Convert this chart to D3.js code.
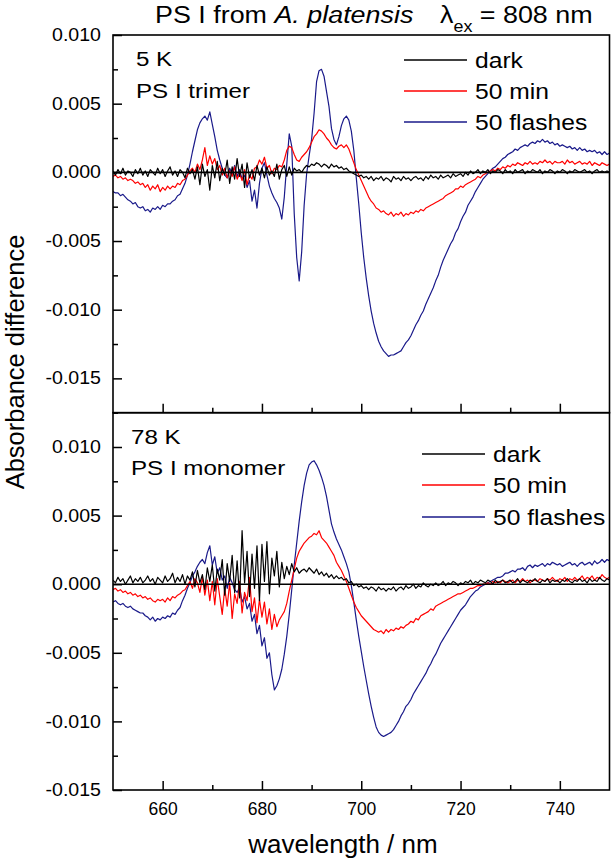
<!DOCTYPE html>
<html><head><meta charset="utf-8">
<script src="https://cdn.jsdelivr.net/npm/d3@7"></script>
<style>body{margin:0;background:#fff} svg{display:block;font-family:"Liberation Sans",Arial,sans-serif}</style>
</head><body><svg id="c" width="612" height="860"></svg>
<script>
// wavelength grid: 650 … 750 nm, 0.5 nm step; values in units of 10^-3 absorbance
const wavelengthStart = 650, wavelengthStep = 0.5;

const trimerDark = [
0.1,-0.2,0.2,-0.1,0.3,-0.2,0.1,0.0,-0.3,0.2,
-0.1,0.3,-0.2,0.1,-0.3,0.2,0.0,-0.2,0.3,-0.1,
0.2,-0.3,0.1,0.4,-0.2,0.1,-0.3,0.2,0.0,-0.4,
0.3,-0.1,0.2,-0.5,0.4,-0.9,0.6,-0.3,0.2,-1.3,
0.5,-0.4,0.8,-0.6,0.3,-0.2,0.9,-0.8,0.4,-0.5,
1.0,-0.3,0.6,-1.1,0.7,-0.4,0.2,-0.6,0.5,-0.2,
0.3,-0.4,0.4,-0.2,0.1,-0.3,0.6,-0.5,0.2,0.5,
-0.3,0.4,-0.2,0.3,0.1,0.2,0.0,0.3,0.5,0.4,
0.6,0.5,0.7,0.6,0.4,0.6,0.5,0.3,0.6,0.4,
0.5,0.3,0.4,0.2,0.3,0.1,0.0,-0.1,-0.2,-0.3,
-0.2,-0.4,-0.3,-0.5,-0.3,-0.6,-0.4,-0.5,-0.3,-0.6,
-0.4,-0.5,-0.7,-0.3,-0.5,-0.4,-0.6,-0.3,-0.5,-0.4,
-0.6,-0.4,-0.3,-0.5,-0.4,-0.6,-0.3,-0.5,-0.2,-0.4,
-0.3,-0.5,-0.2,-0.4,-0.3,-0.2,-0.4,-0.1,-0.3,-0.2,
-0.1,-0.3,0.0,-0.2,0.1,-0.1,0.0,0.2,-0.1,0.1,
0.0,0.2,-0.1,0.1,0.0,0.2,0.1,-0.1,0.2,0.0,
0.1,-0.1,0.2,0.0,0.1,0.2,-0.1,0.1,0.0,0.2,
0.1,0.0,0.2,-0.1,0.1,0.0,0.2,0.1,-0.1,0.1,
0.0,0.2,0.1,-0.1,0.1,0.0,0.2,0.1,0.0,0.1,
0.2,0.0,0.1,-0.1,0.1,0.2,0.0,0.1,0.0,0.1,
0.0];

const trimer50min = [
-0.3,-0.2,-0.4,-0.3,-0.5,-0.4,-0.6,-0.5,-0.6,-0.8,
-0.7,-0.9,-0.8,-1.1,-0.9,-1.3,-1.0,-1.2,-0.9,-1.4,
-1.1,-1.3,-1.0,-1.2,-1.0,-1.1,-0.8,-0.9,-0.6,-0.5,
-0.2,0.1,0.3,0.0,0.6,0.2,0.9,1.8,0.5,1.2,
0.6,1.0,0.2,0.5,-0.2,0.3,-0.4,0.1,-0.3,0.4,
-0.5,-0.1,-0.6,0.2,-0.9,-0.2,-0.5,0.3,0.4,0.9,
0.6,1.1,0.3,0.5,-0.1,0.3,0.2,0.5,0.4,0.9,
1.6,1.9,1.8,1.3,0.9,0.8,1.1,1.3,1.5,1.8,
2.2,2.6,2.8,3.1,3.0,2.8,2.5,2.3,2.0,1.8,
1.7,1.9,2.0,1.8,2.0,1.7,1.2,0.7,0.2,-0.2,
-0.6,-1.0,-1.4,-1.8,-2.1,-2.3,-2.6,-2.7,-2.9,-2.8,
-3.0,-3.1,-2.9,-3.2,-3.0,-3.1,-2.9,-3.2,-3.0,-3.1,
-2.9,-3.0,-2.8,-2.9,-2.7,-2.8,-2.6,-2.5,-2.4,-2.3,
-2.2,-2.1,-2.0,-1.9,-1.7,-1.6,-1.5,-1.4,-1.2,-1.2,
-1.0,-1.1,-0.9,-0.8,-0.7,-0.6,-0.5,-0.3,-0.4,-0.2,
-0.1,0.0,0.1,0.2,0.1,0.3,0.2,0.4,0.3,0.5,
0.4,0.6,0.5,0.7,0.6,0.5,0.7,0.6,0.8,0.6,
0.7,0.6,0.8,0.7,0.9,0.7,0.8,0.6,0.8,0.7,
0.7,0.8,0.6,0.9,0.7,0.8,0.6,0.7,0.8,0.6,
0.7,0.6,0.8,0.5,0.7,0.6,0.5,0.7,0.6,0.5,
0.6];

const trimer50flashes = [
-1.4,-1.5,-1.5,-1.7,-1.6,-1.8,-2.0,-2.1,-2.3,-2.2,
-2.5,-2.6,-2.5,-2.8,-2.7,-2.9,-2.6,-2.7,-2.5,-2.7,
-2.4,-2.5,-2.3,-2.3,-2.1,-2.0,-1.7,-1.6,-1.2,-0.8,
-0.2,0.6,1.5,2.3,3.1,3.6,3.9,4.1,3.8,4.4,
3.5,2.6,1.6,0.9,0.3,-0.2,-0.4,0.3,-0.1,0.5,
-0.3,0.2,-0.5,-0.2,-1.1,-0.6,-2.1,-1.3,-2.6,-0.8,
0.3,0.7,-0.2,-1.0,-1.5,-1.9,-2.2,-2.6,-3.4,-1.8,
0.6,2.8,1.9,-3.0,-6.2,-7.9,-5.8,-2.4,-0.1,1.2,
2.4,4.3,6.6,7.4,7.5,7.0,5.9,4.8,3.2,2.4,
2.0,2.6,3.4,3.9,4.1,3.8,3.0,1.6,-0.4,-2.3,
-4.4,-6.2,-7.7,-9.0,-10.1,-11.0,-11.7,-12.3,-12.7,-13.0,
-13.2,-13.4,-13.3,-13.3,-13.2,-13.1,-13.0,-12.7,-12.4,-12.2,
-11.9,-11.5,-11.1,-10.8,-10.4,-10.1,-9.6,-9.2,-8.8,-8.4,
-7.9,-7.5,-6.9,-6.4,-6.0,-5.6,-5.2,-4.9,-4.4,-4.1,
-3.6,-3.2,-2.9,-2.4,-2.1,-1.8,-1.4,-1.1,-0.8,-0.5,
-0.3,-0.1,0.1,0.3,0.4,0.6,0.8,1.0,1.1,1.3,
1.4,1.5,1.7,1.6,1.8,1.9,2.0,1.9,2.1,2.2,
2.1,2.3,2.2,2.4,2.2,2.3,2.1,2.2,2.0,2.1,
1.9,2.0,1.9,1.8,1.9,1.7,1.8,1.6,1.8,1.6,
1.7,1.5,1.6,1.5,1.6,1.4,1.5,1.3,1.5,1.3,
1.4];

const monomerDark = [
0.3,0.1,0.5,0.2,0.4,0.0,0.3,0.6,0.1,0.4,
0.2,0.5,0.1,0.3,0.6,0.2,0.4,0.0,0.5,0.3,
0.1,0.6,0.2,0.4,0.8,0.1,0.5,0.2,0.7,0.0,
0.6,0.3,0.9,-0.2,1.0,0.1,0.7,-0.4,1.2,0.2,
1.4,-0.5,1.1,0.3,1.8,-0.8,1.5,0.2,2.1,-0.6,
1.7,-1.0,3.9,0.1,2.4,-0.9,2.2,-0.3,2.8,-1.2,
2.9,0.2,3.1,-0.7,1.9,0.6,2.4,-0.2,1.6,0.4,
1.3,0.7,1.5,0.9,1.2,0.8,1.0,1.1,0.9,1.2,
1.0,0.8,1.1,0.7,0.9,0.6,0.8,0.5,0.7,0.4,
0.6,0.4,0.5,0.3,0.4,0.1,0.2,-0.1,0.0,-0.2,
-0.1,-0.3,-0.2,-0.4,-0.2,-0.3,-0.5,-0.2,-0.4,-0.3,
-0.5,-0.3,-0.4,-0.2,-0.5,-0.3,-0.2,-0.4,-0.1,-0.3,
-0.2,0.0,-0.3,-0.1,-0.2,0.1,-0.1,-0.2,0.0,-0.1,
0.1,-0.1,0.0,0.2,-0.1,0.1,0.0,0.2,0.1,-0.1,
0.1,0.0,0.2,0.1,0.3,0.0,0.2,0.1,0.3,0.2,
0.1,0.3,0.2,0.0,0.3,0.1,0.2,0.3,0.1,0.2,
0.3,0.1,0.2,0.4,0.1,0.3,0.2,0.1,0.3,0.2,
0.4,0.2,0.1,0.3,0.2,0.4,0.1,0.3,0.2,0.3,
0.1,0.3,0.2,0.4,0.2,0.1,0.3,0.2,0.4,0.2,
0.3,0.1,0.4,0.2,0.3,0.2,0.5,0.3,0.2,0.4,
0.3];

const monomer50min = [
-0.4,-0.3,-0.5,-0.4,-0.6,-0.5,-0.7,-0.6,-0.8,-0.7,
-0.9,-0.8,-1.0,-0.9,-1.1,-1.0,-1.2,-1.3,-1.1,-1.2,
-1.1,-1.3,-1.0,-1.2,-0.9,-1.0,-0.8,-0.7,-0.5,-0.4,
-0.1,0.2,-0.3,0.4,0.1,-0.6,0.5,-0.8,0.3,-1.2,
0.2,-1.5,0.4,-0.9,-2.2,-0.3,-1.6,0.1,-2.5,-0.7,
-1.4,0.2,-2.1,-0.6,-1.2,0.5,-2.0,-1.0,-2.8,-1.1,
-2.4,-1.3,-2.9,-1.8,-3.3,-2.2,-3.1,-2.6,-2.3,-2.0,
-1.4,-0.5,0.3,1.1,1.9,2.4,2.7,3.0,3.2,3.4,
3.5,3.7,3.6,3.9,3.4,3.2,3.0,2.7,2.4,2.1,
1.6,1.3,1.0,0.6,0.2,-0.3,-0.8,-1.3,-1.7,-2.0,
-2.3,-2.5,-2.7,-2.9,-3.1,-3.3,-3.4,-3.5,-3.4,-3.6,
-3.3,-3.5,-3.3,-3.4,-3.2,-3.3,-3.1,-3.2,-3.0,-2.9,
-2.7,-2.8,-2.5,-2.6,-2.3,-2.2,-2.1,-2.0,-1.8,-1.9,
-1.6,-1.5,-1.4,-1.3,-1.2,-1.1,-1.0,-0.9,-0.8,-0.7,
-0.7,-0.6,-0.5,-0.4,-0.3,-0.3,-0.2,-0.1,-0.1,0.0,
0.0,0.1,0.0,0.2,0.1,0.2,0.1,0.3,0.2,0.1,
0.2,0.3,0.1,0.3,0.2,0.4,0.2,0.3,0.1,0.3,
0.3,0.2,0.4,0.3,0.2,0.4,0.3,0.5,0.3,0.2,
0.4,0.3,0.5,0.2,0.4,0.3,0.5,0.3,0.4,0.6,
0.3,0.5,0.4,0.6,0.3,0.5,0.4,0.7,0.5,0.4,
0.5];

const monomer50flashes = [
-1.3,-1.2,-1.4,-1.5,-1.4,-1.6,-1.7,-1.6,-1.8,-1.9,
-2.0,-2.1,-2.1,-2.3,-2.4,-2.6,-2.4,-2.7,-2.5,-2.6,
-2.4,-2.5,-2.3,-2.4,-2.1,-2.2,-1.9,-1.7,-1.2,-0.8,
-0.3,0.1,0.6,0.9,1.3,1.6,1.8,1.5,2.3,2.8,
1.4,2.0,0.8,1.2,0.3,0.6,-0.3,0.5,0.1,-0.4,
-0.6,-0.2,-1.3,-0.9,-1.8,-1.4,-2.7,-2.2,-3.6,-3.0,
-4.5,-3.9,-5.4,-5.0,-6.6,-7.7,-7.4,-6.9,-6.2,-5.1,
-3.8,-2.2,-0.4,1.4,3.0,4.6,6.0,7.2,8.1,8.7,
8.9,9.0,8.7,8.3,7.8,7.2,6.4,5.4,4.4,3.8,
3.3,2.9,2.5,2.0,1.5,0.9,-0.1,-1.3,-2.6,-3.8,
-4.9,-6.0,-7.0,-8.0,-8.9,-9.7,-10.4,-10.8,-11.0,-11.1,
-11.0,-10.9,-10.8,-10.6,-10.3,-10.0,-9.6,-9.3,-8.9,-8.7,
-8.4,-8.0,-7.7,-7.4,-7.1,-6.8,-6.5,-6.1,-5.8,-5.4,
-5.1,-4.7,-4.3,-4.0,-3.7,-3.4,-3.1,-2.8,-2.5,-2.2,
-1.9,-1.7,-1.5,-1.2,-0.9,-0.7,-0.5,-0.4,-0.2,-0.1,
0.0,0.1,0.2,0.3,0.4,0.5,0.5,0.6,0.8,0.8,
0.9,1.0,0.9,1.1,1.1,1.2,1.0,1.3,1.4,1.2,
1.4,1.3,1.4,1.5,1.3,1.5,1.4,1.6,1.5,1.4,
1.5,1.3,1.4,1.5,1.6,1.4,1.5,1.3,1.5,1.6,
1.4,1.5,1.6,1.4,1.7,1.5,1.6,1.8,1.6,1.8,
1.7];

const seriesNames = ["dark", "50 min", "50 flashes"];
const seriesColors = ["#000000", "#ff0000", "#1a1a8a"];
const xTickValues = [660, 680, 700, 720, 740];
const xMinorTickValues = [670, 690, 710, 730];
const yTickValues = [-15, -10, -5, 0, 5, 10];

const FONT = "Liberation Sans, Arial, sans-serif";
const svg = d3.select("#c");
const x = d3.scaleLinear().domain([650, 750]).range([113, 609.5]);

// horizontal stretch of a text about its anchor point
function stretch(sel, sx) {
  sel.each(function () {
    const t = d3.select(this);
    const tx = +t.attr("x") || 0, ty = +t.attr("y") || 0;
    t.attr("transform", `translate(${tx},${ty}) scale(${sx},1) translate(${-tx},${-ty})`);
  });
}

const panels = [
  { id: "p1", domain: [-17.5, 10], range: [412.7, 35], data: [trimerDark, trimer50min, trimer50flashes],
    notes: [["5 K", 136, 66.5], ["PS I trimer", 136, 98]],
    legend: { x1: 404, x2: 467, tx: 475, ys: [60, 91, 122] } },
  { id: "p2", domain: [-15, 12.5], range: [790, 412.7], data: [monomerDark, monomer50min, monomer50flashes],
    notes: [["78 K", 131, 444], ["PS I monomer", 131, 475]],
    legend: { x1: 422, x2: 485, tx: 493, ys: [454, 485, 517] } }
];

const defs = svg.append("defs");

panels.forEach(p => {
  const y = d3.scaleLinear().domain(p.domain).range(p.range);
  const top = p.range[1], bot = p.range[0];
  defs.append("clipPath").attr("id", "clip-" + p.id)
    .append("rect").attr("x", x(650)).attr("y", top).attr("width", x(750) - x(650)).attr("height", bot - top);

  const g = svg.append("g");
  const line = d3.line()
    .x((d, i) => x(wavelengthStart + i * wavelengthStep))
    .y(d => y(d));

  const cg = g.append("g").attr("clip-path", `url(#clip-${p.id})`);
  [2, 1, 0].forEach(k => {
    cg.append("path").datum(p.data[k])
      .attr("d", line).attr("fill", "none")
      .attr("stroke", seriesColors[k]).attr("stroke-width", 1.2)
      .attr("stroke-linejoin", "round");
  });
  g.append("line").attr("x1", x(650)).attr("x2", x(750)).attr("y1", y(0)).attr("y2", y(0))
    .attr("stroke", "#000").attr("stroke-width", 1.6);

  const yMajor = yTickValues.filter(v => v >= p.domain[0] && v <= p.domain[1]);
  const yMinor = d3.range(p.domain[0], p.domain[1] + 0.01, 2.5).filter(v => !yMajor.includes(v));
  const la = g.append("g").attr("transform", `translate(${x(650)},0)`)
    .call(d3.axisLeft(y).tickValues(yMajor).tickSize(-9).tickPadding(12)
      .tickFormat(v => (v / 1000).toFixed(3)));
  la.select(".domain").remove();
  la.selectAll("line").attr("stroke", "#000").attr("stroke-width", 1.5);
  la.selectAll("text").attr("font-size", 17.5).attr("font-family", FONT).attr("fill", "#000").call(stretch, 1.12);
  const lm = g.append("g").attr("transform", `translate(${x(650)},0)`)
    .call(d3.axisLeft(y).tickValues(yMinor).tickSize(-5).tickFormat(""));
  lm.select(".domain").remove();
  lm.selectAll("line").attr("stroke", "#000").attr("stroke-width", 1.5);

  const ba = g.append("g").attr("transform", `translate(0,${bot})`)
    .call(d3.axisBottom(x).tickValues(xTickValues).tickSize(-9).tickFormat(""));
  ba.select(".domain").remove();
  ba.selectAll("line").attr("stroke", "#000").attr("stroke-width", 1.5);
  const bm = g.append("g").attr("transform", `translate(0,${bot})`)
    .call(d3.axisBottom(x).tickValues(xMinorTickValues).tickSize(-5).tickFormat(""));
  bm.select(".domain").remove();
  bm.selectAll("line").attr("stroke", "#000").attr("stroke-width", 1.5);

  g.append("rect").attr("x", x(650)).attr("y", top).attr("width", x(750) - x(650)).attr("height", bot - top)
    .attr("fill", "none").attr("stroke", "#000").attr("stroke-width", 1.6);

  p.notes.forEach(n => {
    g.append("text").attr("x", n[1]).attr("y", n[2]).attr("font-size", 21).text(n[0]).call(stretch, 1.15);
  });

  seriesNames.forEach((name, k) => {
    const ly = p.legend.ys[k];
    g.append("line").attr("x1", p.legend.x1).attr("x2", p.legend.x2).attr("y1", ly).attr("y2", ly)
      .attr("stroke", seriesColors[k]).attr("stroke-width", 1.3);
    g.append("text").attr("x", p.legend.tx).attr("y", ly + 8).attr("font-size", 22).text(name).call(stretch, 1.12);
  });
});

svg.append("g").attr("transform", "translate(0,790)")
  .call(d3.axisBottom(x).tickValues(xTickValues).tickSize(0).tickPadding(13).tickFormat(d3.format("d")))
  .call(a => a.select(".domain").remove())
  .selectAll("text").attr("font-size", 17.5).attr("font-family", FONT).attr("fill", "#000");

svg.append("text").attr("x", 343).attr("y", 853).attr("text-anchor", "middle").attr("font-size", 26)
  .text("wavelength / nm");
svg.append("text").attr("transform", "translate(24,362) rotate(-90)").attr("text-anchor", "middle").attr("font-size", 25.5)
  .text("Absorbance difference");

const t = svg.append("text").attr("x", 155).attr("y", 23).attr("font-size", 24);
t.append("tspan").text("PS I from ");
t.append("tspan").attr("font-style", "italic").text("A. platensis");
t.call(stretch, 1.12);
const t2 = svg.append("text").attr("x", 440).attr("y", 23).attr("font-size", 24);
t2.append("tspan").text("λ");
t2.append("tspan").attr("font-size", 16).attr("dy", 9).text("ex");
t2.append("tspan").attr("dy", -9).text(" = 808 nm");
t2.call(stretch, 1.12);
</script></body></html>
